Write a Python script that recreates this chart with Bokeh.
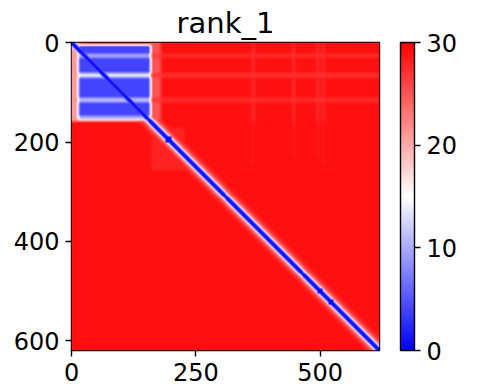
import numpy as np
from bokeh.plotting import figure
from bokeh.models import (LinearColorMapper, ColorBar, FixedTicker, Range1d)
from bokeh.embed import file_html
from bokeh.resources import INLINE

# ---------------- data ----------------
title_text = "rank_1"
n_res = 620
x_ticks = [0, 250, 500]
y_ticks = [0, 200, 400, 600]
cbar_ticks = [0, 10, 20, 30]
vmin, vmax = 0, 30

# rectangles painted in order: row0, row1, col0, col1, value
rect_row0 = [0,   0,   0,   0,   5,   24,  62,  112, 148, 24,  62,  112, 160, 0,   0,   0,   0,   170, 480, 230, 250]
rect_row1 = [620, 160, 160, 160, 152, 30,  70,  119, 158, 30,  70,  119, 620, 250, 250, 250, 250, 260, 560, 290, 330]
rect_col0 = [0,   160, 0,   160, 14,  14,  14,  14,  14,  160, 160, 160, 0,   364, 445, 494, 505, 160, 160, 440, 30]
rect_col1 = [620, 620, 14,  180, 160, 160, 160, 160, 160, 620, 620, 620, 160, 368, 449, 498, 509, 230, 220, 500, 80]
rect_val  = [30,  29,  21,  25,  4,   12,  15,  13,  12,  27,  27,  27,  30,  27,  27,  27,  27,  28,  29,  29,  29]

# diagonal profile: distance from diagonal -> value
diag_offset = [0, 2, 4, 6, 8, 10, 14, 20, 30]
diag_value  = [0, 1, 3, 7, 13, 19, 24, 27, 29]

# local bulges along the diagonal
bump_center = [195, 500, 522]
bump_radius = [7, 6, 5]

# ---------------- build matrix ----------------
mat = np.zeros((n_res, n_res))
for r0, r1, c0, c1, v in zip(rect_row0, rect_row1, rect_col0, rect_col1, rect_val):
    mat[r0:r1, c0:c1] = v
# soften the block edges (separable box blur)
k = np.ones(9) / 9.0
padded = np.pad(mat, 4, mode="edge")
tmp = np.apply_along_axis(lambda r: np.convolve(r, k, mode="valid"), 1, padded)
mat = np.apply_along_axis(lambda c: np.convolve(c, k, mode="valid"), 0, tmp)

ii, jj = np.indices((n_res, n_res))
d = np.abs(ii - jj).astype(float)
for c, rad in zip(bump_center, bump_radius):
    near = (np.abs(ii - c) < rad) & (np.abs(jj - c) < rad)
    d[near] = np.minimum(d[near], 2)
mat = np.minimum(mat, np.interp(d, diag_offset, diag_value))
mat = np.clip(mat, vmin, vmax)

# ---------------- figure ----------------
def bwr(n=256):
    out = []
    for q in range(n):
        t = q / (n - 1)
        if t < 0.5:
            s = t * 2
            r, g, b = s, s, 1.0
        else:
            s = (t - 0.5) * 2
            r, g, b = 1.0, 1 - s, 1 - s
        out.append("#%02x%02x%02x" % (int(round(r * 255)), int(round(g * 255)), int(round(b * 255))))
    return out

mapper = LinearColorMapper(palette=bwr(), low=vmin, high=vmax)

p = figure(frame_width=308, frame_height=308, output_backend="svg",
           toolbar_location=None, title=title_text,
           x_range=Range1d(-0.5, n_res - 0.5), y_range=Range1d(n_res - 0.5, -0.5),
           min_border_left=71, min_border_top=30, min_border_bottom=41,
           min_border_right=100)
p.image(image=[mat], x=-0.5, y=-0.5, dw=n_res, dh=n_res, color_mapper=mapper)

p.title.text_font = "DejaVu Sans"
p.title.text_font_size = "29px"
p.title.text_font_style = "normal"
p.title.align = "center"
p.title.text_color = "black"
p.title.standoff = 6

p.grid.visible = False
p.outline_line_color = "black"
p.outline_line_width = 1.4
p.outline_line_alpha = 1.0
p.background_fill_color = "white"

p.xaxis.ticker = FixedTicker(ticks=x_ticks)
p.yaxis.ticker = FixedTicker(ticks=y_ticks)
for ax in (p.xaxis[0], p.yaxis[0]):
    ax.axis_line_color = None
    ax.major_tick_in = 0
    ax.major_tick_out = 6
    ax.major_tick_line_width = 1.4
    ax.major_tick_line_color = "black"
    ax.minor_tick_line_color = None
    ax.major_label_text_font = "DejaVu Sans"
    ax.major_label_text_font_size = "24px"
    ax.major_label_text_color = "black"
    ax.major_label_standoff = 6
p.yaxis.major_label_orientation = "horizontal"

cb = ColorBar(color_mapper=mapper, ticker=FixedTicker(ticks=cbar_ticks),
              width=14, height=308, margin=0, padding=0, location=(21, 0),
              major_tick_in=0, major_tick_out=6, major_tick_line_color="black",
              major_tick_line_width=1.4, bar_line_color="black", bar_line_width=1.4,
              major_label_text_font="DejaVu Sans", major_label_text_font_size="24px",
              major_label_text_color="black", label_standoff=6,
              background_fill_color=None, border_line_color=None)
p.add_layout(cb, "right")

open("out.html", "w").write(file_html(p, INLINE))
